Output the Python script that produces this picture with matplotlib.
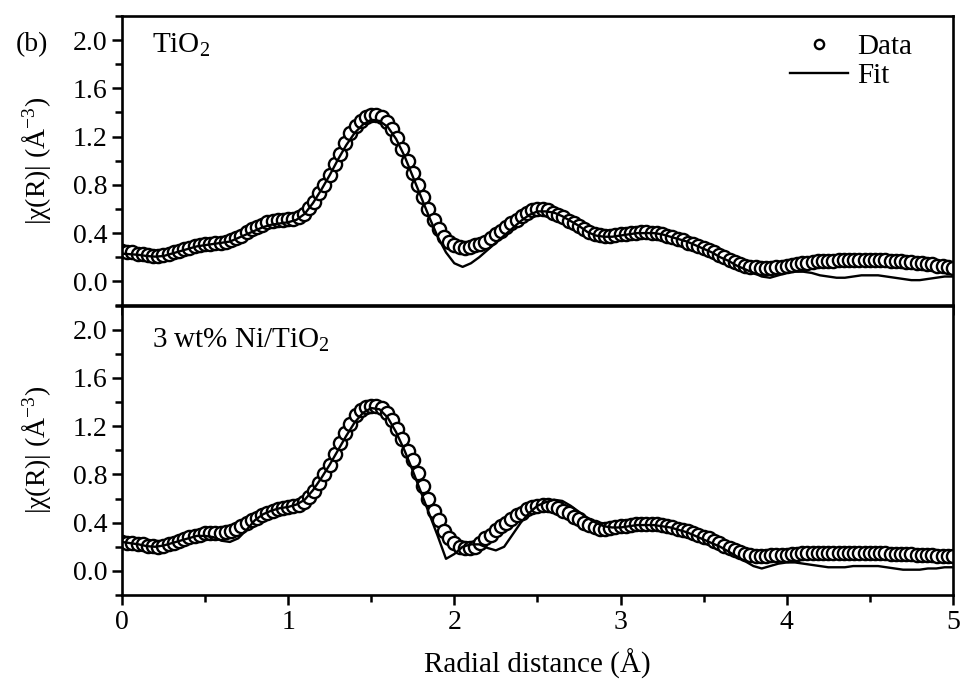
import numpy as np
import matplotlib
matplotlib.use('Agg')
import matplotlib.pyplot as plt
from matplotlib.ticker import MultipleLocator

plt.rcParams['font.family'] = ['Liberation Serif', 'DejaVu Serif']
plt.rcParams['mathtext.fontset'] = 'custom'
plt.rcParams['mathtext.rm'] = 'Liberation Serif'
plt.rcParams['mathtext.it'] = 'Liberation Serif:italic'

# data, R grid step 1/32 A (0 .. 5)
tio2_data = [
    0.25, 0.245, 0.24, 0.23, 0.225, 0.22, 0.21, 0.21,
    0.22, 0.23, 0.245, 0.255, 0.265, 0.28, 0.29, 0.30,
    0.31, 0.31, 0.32, 0.32, 0.33, 0.34, 0.36, 0.38,
    0.41, 0.43, 0.45, 0.47, 0.49, 0.50, 0.51, 0.51,
    0.52, 0.52, 0.53, 0.56, 0.61, 0.66, 0.73, 0.80,
    0.88, 0.97, 1.06, 1.15, 1.23, 1.29, 1.33, 1.36,
    1.38, 1.38, 1.36, 1.32, 1.26, 1.19, 1.10, 1.00,
    0.90, 0.80, 0.70, 0.60, 0.51, 0.43, 0.37, 0.33,
    0.30, 0.285, 0.28, 0.285, 0.30, 0.31, 0.33, 0.36,
    0.39, 0.42, 0.45, 0.48, 0.51, 0.54, 0.57, 0.59,
    0.60, 0.60, 0.59, 0.57, 0.55, 0.53, 0.50, 0.48,
    0.46, 0.43, 0.41, 0.39, 0.385, 0.38, 0.38, 0.385,
    0.39, 0.395, 0.40, 0.405, 0.41, 0.41, 0.405, 0.40,
    0.39, 0.38, 0.37, 0.35, 0.34, 0.32, 0.31, 0.29,
    0.28, 0.26, 0.24, 0.22, 0.20, 0.18, 0.16, 0.145,
    0.13, 0.12, 0.115, 0.11, 0.11, 0.11, 0.115, 0.12,
    0.13, 0.135, 0.14, 0.15, 0.155, 0.16, 0.165, 0.165,
    0.17, 0.17, 0.175, 0.175, 0.18, 0.18, 0.18, 0.18,
    0.18, 0.18, 0.175, 0.175, 0.17, 0.17, 0.165, 0.16,
    0.16, 0.155, 0.15, 0.145, 0.14, 0.13, 0.125, 0.12,
    0.11,
]

ni_data = [
    0.24, 0.235, 0.23, 0.225, 0.22, 0.21, 0.205, 0.20,
    0.21, 0.22, 0.235, 0.25, 0.265, 0.28, 0.29, 0.30,
    0.31, 0.31, 0.31, 0.31, 0.32, 0.33, 0.35, 0.37,
    0.40, 0.42, 0.44, 0.46, 0.48, 0.50, 0.51, 0.52,
    0.53, 0.54, 0.55, 0.57, 0.61, 0.66, 0.73, 0.80,
    0.88, 0.97, 1.06, 1.14, 1.22, 1.29, 1.33, 1.36,
    1.37, 1.37, 1.35, 1.31, 1.25, 1.18, 1.09, 0.99,
    0.92, 0.81, 0.70, 0.60, 0.50, 0.42, 0.33, 0.27,
    0.23, 0.20, 0.19, 0.19, 0.20, 0.23, 0.27, 0.30,
    0.34, 0.37, 0.40, 0.43, 0.46, 0.48, 0.51, 0.53,
    0.54, 0.55, 0.55, 0.54, 0.52, 0.50, 0.48, 0.45,
    0.43, 0.40, 0.38, 0.36, 0.35, 0.35, 0.355, 0.36,
    0.37, 0.375, 0.38, 0.385, 0.39, 0.39, 0.39, 0.385,
    0.38, 0.37, 0.36, 0.35, 0.34, 0.33, 0.31, 0.30,
    0.28, 0.27, 0.25, 0.23, 0.21, 0.19, 0.17, 0.155,
    0.14, 0.13, 0.125, 0.125, 0.125, 0.13, 0.13, 0.13,
    0.135, 0.14, 0.14, 0.145, 0.145, 0.15, 0.15, 0.15,
    0.15, 0.15, 0.15, 0.15, 0.15, 0.15, 0.15, 0.15,
    0.145, 0.145, 0.145, 0.145, 0.14, 0.14, 0.14, 0.14,
    0.14, 0.135, 0.135, 0.13, 0.13, 0.125, 0.125, 0.12,
    0.12,
]

# fits, R grid step 0.05 A (0 .. 5)
tio2_fit = [
    0.23, 0.225, 0.22, 0.21, 0.205, 0.21, 0.23, 0.25, 0.27, 0.29,
    0.30, 0.31, 0.32, 0.33, 0.36, 0.39, 0.42, 0.45, 0.47, 0.48,
    0.49, 0.51, 0.56, 0.65, 0.76, 0.88, 1.01, 1.13, 1.23, 1.30,
    1.34, 1.33, 1.28, 1.18, 1.04, 0.87, 0.70, 0.53, 0.37, 0.24,
    0.15, 0.12, 0.15, 0.20, 0.26, 0.32, 0.38, 0.44, 0.50, 0.55,
    0.58, 0.58, 0.57, 0.54, 0.50, 0.46, 0.41, 0.38, 0.37, 0.37,
    0.38, 0.39, 0.40, 0.40, 0.40, 0.39, 0.37, 0.35, 0.33, 0.30,
    0.27, 0.24, 0.20, 0.17, 0.13, 0.10, 0.07, 0.04, 0.03, 0.05,
    0.07, 0.08, 0.08, 0.07, 0.05, 0.04, 0.03, 0.03, 0.04, 0.05,
    0.05, 0.05, 0.04, 0.03, 0.02, 0.01, 0.01, 0.02, 0.03, 0.04,
    0.04,
]

ni_fit = [
    0.24, 0.23, 0.22, 0.205, 0.20, 0.21, 0.23, 0.25, 0.27, 0.29,
    0.29, 0.28, 0.25, 0.24, 0.27, 0.34, 0.42, 0.47, 0.50, 0.52,
    0.53, 0.55, 0.59, 0.67, 0.77, 0.88, 1.00, 1.12, 1.23, 1.31,
    1.35, 1.34, 1.27, 1.15, 1.00, 0.83, 0.65, 0.47, 0.29, 0.10,
    0.14, 0.20, 0.22, 0.22, 0.19, 0.17, 0.20, 0.30, 0.40, 0.48,
    0.54, 0.57, 0.59, 0.58, 0.54, 0.49, 0.44, 0.40, 0.37, 0.36,
    0.36, 0.37, 0.38, 0.38, 0.38, 0.37, 0.36, 0.34, 0.32, 0.29,
    0.26, 0.23, 0.20, 0.16, 0.12, 0.08, 0.04, 0.02, 0.04, 0.06,
    0.07, 0.07, 0.06, 0.05, 0.04, 0.03, 0.03, 0.03, 0.04, 0.04,
    0.04, 0.04, 0.03, 0.02, 0.01, 0.01, 0.01, 0.02, 0.02, 0.03,
    0.03,
]

labels = ["TiO$_2$", "3 wt% Ni/TiO$_2$"]

r_data = np.linspace(0, 5, len(tio2_data))
r_fit = np.linspace(0, 5, len(tio2_fit))

fig = plt.figure(figsize=(9.6, 6.84), dpi=100)
ax1 = fig.add_axes([0.127, 0.5534, 0.8656, 0.4232])
ax2 = fig.add_axes([0.127, 0.1301, 0.8656, 0.4232])

panels = [(ax1, tio2_data, tio2_fit, labels[0], 0.872),
          (ax2, ni_data, ni_fit, labels[1], 0.853)]

for ax, d, f, lab, ty in panels:
    ax.plot(r_data, d, 'o', mfc='white', mec='black', ms=9.5, mew=1.7,
            label='Data', zorder=2)
    ax.plot(r_fit, f, '-', c='black', lw=1.7, label='Fit', zorder=3)
    ax.set_xlim(0, 5)
    ax.set_ylim(-0.2, 2.2)
    ax.xaxis.set_major_locator(MultipleLocator(1))
    ax.xaxis.set_minor_locator(MultipleLocator(0.5))
    ax.yaxis.set_major_locator(MultipleLocator(0.4))
    ax.yaxis.set_minor_locator(MultipleLocator(0.2))
    ax.yaxis.set_major_formatter(matplotlib.ticker.FormatStrFormatter('%.1f'))
    ax.tick_params(which='both', direction='out', width=1.8, labelsize=20,
                   top=False, right=False)
    ax.tick_params(which='major', length=7)
    ax.tick_params(which='minor', length=5)
    for s in ax.spines.values():
        s.set_linewidth(1.9)
    ax.set_ylabel('|χ(R)| (Å$^{-3}$)', fontsize=20)
    ax.yaxis.set_label_coords(-0.083, 0.5)
    ax.text(0.036, ty, lab, transform=ax.transAxes, fontsize=21, va='baseline')

ax1.tick_params(labelbottom=False)
ax2.set_xlabel('Radial distance (Å)', fontsize=21, labelpad=10)

ax1.legend(loc='upper right', frameon=False, fontsize=21, handlelength=2.0,
           markerscale=0.7, borderaxespad=0.3, bbox_to_anchor=(0.975, 1.01),
           handletextpad=0.3, labelspacing=0.1)

fig.text(0.016, 0.935, '(b)', fontsize=20, va='center')

fig.savefig('out.png', dpi=100)
